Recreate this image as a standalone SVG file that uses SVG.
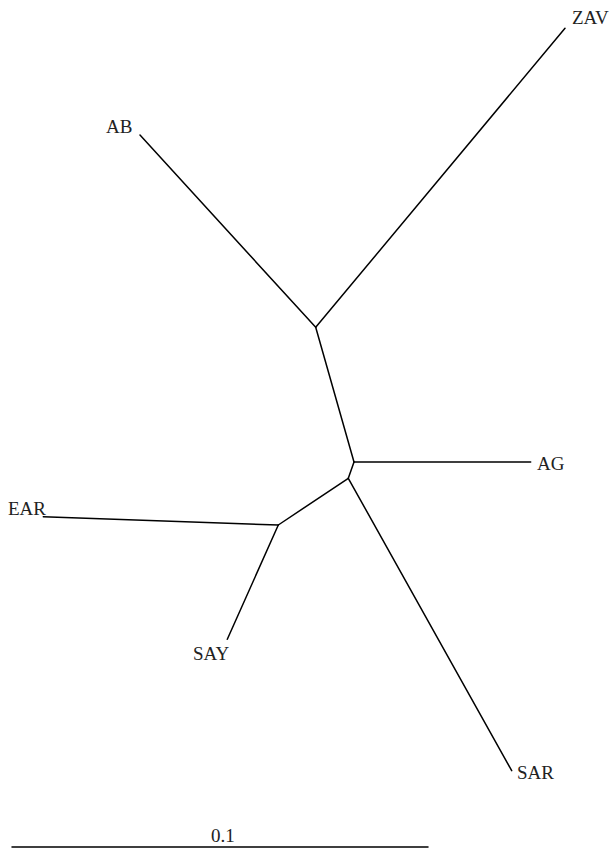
<svg xmlns="http://www.w3.org/2000/svg" width="613" height="849" viewBox="0 0 613 849">
<style>
.e{stroke:#000;stroke-width:1.5;fill:none;stroke-linecap:round}
.t{font-family:"Liberation Serif","Times New Roman",Times,serif;font-size:19px;fill:#222}
</style>
<rect width="613" height="849" fill="#fff"/>
<g id="connectors">
<line class="e" x1="315.7" y1="327.3" x2="140" y2="135"/>
<line class="e" x1="315.7" y1="327.3" x2="565" y2="28.3"/>
<line class="e" x1="315.7" y1="327.3" x2="354" y2="462"/>
<line class="e" x1="354" y1="462" x2="530.7" y2="462"/>
<line class="e" x1="354" y1="462" x2="348.3" y2="478.3"/>
<line class="e" x1="348.3" y1="478.3" x2="511.7" y2="770.7"/>
<line class="e" x1="348.3" y1="478.3" x2="278.3" y2="525"/>
<line class="e" x1="278.3" y1="525" x2="43.3" y2="516.7"/>
<line class="e" x1="278.3" y1="525" x2="227.3" y2="639.3"/>
</g>
<g id="ZAV"><text class="t" x="572" y="24">ZAV</text></g>
<g id="AB"><text class="t" x="106" y="133">AB</text></g>
<g id="AG"><text class="t" x="537" y="470">AG</text></g>
<g id="EAR"><text class="t" x="8" y="515">EAR</text></g>
<g id="SAY"><text class="t" x="193" y="660">SAY</text></g>
<g id="SAR"><text class="t" x="517" y="779">SAR</text></g>
<g id="scale">
<line class="e" x1="12" y1="847" x2="428" y2="847"/>
<text class="t" x="211" y="842">0.1</text>
</g>
</svg>
